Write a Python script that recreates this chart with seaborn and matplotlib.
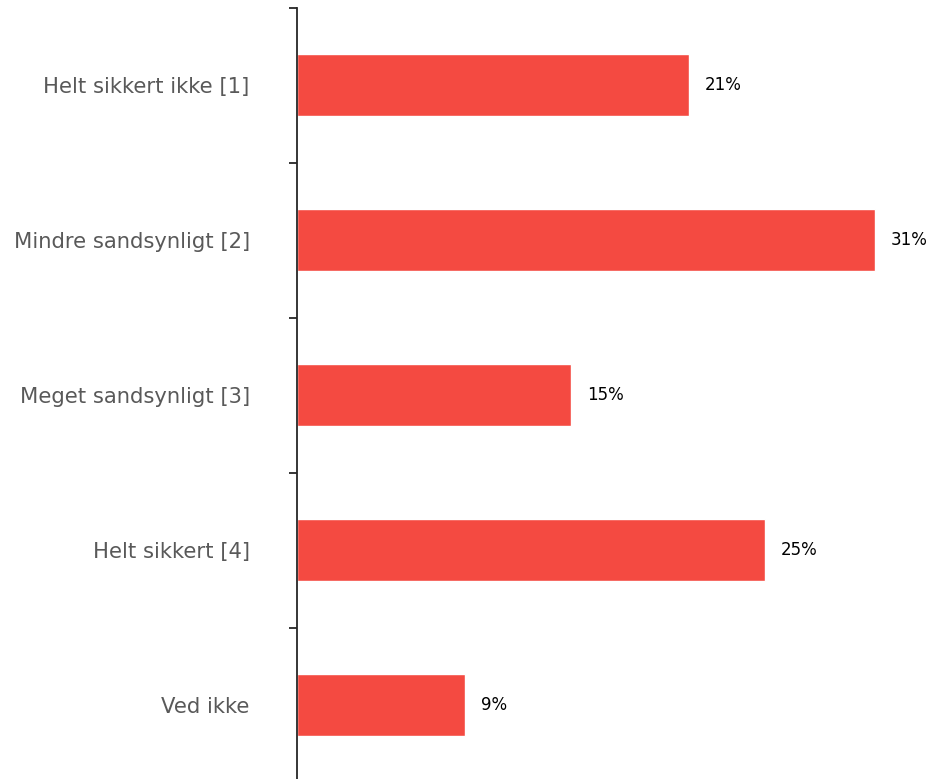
import numpy as np
import pandas as pd
import seaborn as sns
import matplotlib.pyplot as plt

categories = ["Helt sikkert ikke [1]", "Mindre sandsynligt [2]", "Meget sandsynligt [3]",
              "Helt sikkert [4]", "Ved ikke"]
values = [21, 31, 14.7, 25.1, 9]
value_labels = ["21%", "31%", "15%", "25%", "9%"]


def draw_():
    df = pd.DataFrame({"kategori": categories, "andel": values})
    sns.set_style("white")
    plt.rcParams["font.family"] = ["DejaVu Sans"]

    fig = plt.figure(figsize=(9.33, 7.79), dpi=100)
    ax = fig.add_axes([297 / 933, 0.0, 1 - 297 / 933, (779 - 8) / 779])
    sns.barplot(data=df, x="andel", y="kategori", color="#F44A41",
                width=0.4, saturation=1, ax=ax)

    ax.set_xlim(0, 34.1)
    ax.set_ylim(4.475, -0.5)
    for sp in ["top", "right", "bottom"]:
        ax.spines[sp].set_visible(False)
    ax.spines["left"].set_color("#262626")
    ax.spines["left"].set_linewidth(1.3)
    ax.set_xticks([])
    ax.set_xlabel("")
    ax.set_ylabel("")
    ax.tick_params(axis="y", which="major", left=False, length=0, pad=34,
                   labelsize=15.2, labelcolor="#595959")
    ax.set_yticks(np.arange(-0.5, 4.0, 1.0), minor=True)
    ax.tick_params(axis="y", which="minor", left=True, length=6, width=1.3,
                   color="#262626")

    for i, (v, lab) in enumerate(zip(values, value_labels)):
        ax.text(v + 0.85, i, lab, va="center", ha="left", fontsize=12, color="black")

    fig.savefig("out.png", dpi=100)


if __name__ == '__main__':
    draw_()
